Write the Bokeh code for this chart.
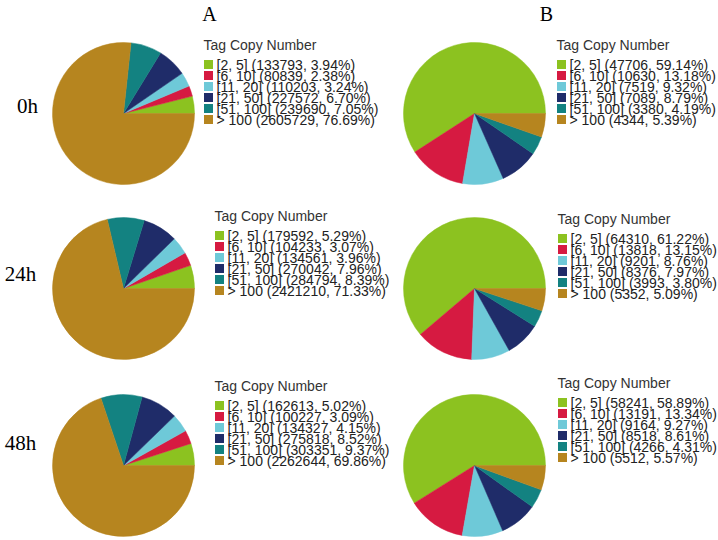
import math
from bokeh.plotting import figure
from bokeh.models import Range1d
from bokeh.core.properties import value
from bokeh.embed import file_html
from bokeh.resources import INLINE

# ---------------- data ----------------
categories = ["[2, 5]", "[6, 10]", "[11, 20]", "[21, 50]", "[51, 100]", "> 100"]
colors = ["#8cc220", "#d61a41", "#6ec9d8", "#1f2c69", "#138281", "#b6851f"]

a_0h_counts = [133793, 80839, 110203, 227572, 239690, 2605729]
a_0h_pct = [3.94, 2.38, 3.24, 6.70, 7.05, 76.69]
a_24h_counts = [179592, 104233, 134561, 270042, 284794, 2421210]
a_24h_pct = [5.29, 3.07, 3.96, 7.96, 8.39, 71.33]
a_48h_counts = [162613, 100227, 134327, 275818, 303351, 2262644]
a_48h_pct = [5.02, 3.09, 4.15, 8.52, 9.37, 69.86]

b_0h_counts = [47706, 10630, 7519, 7089, 3380, 4344]
b_0h_pct = [59.14, 13.18, 9.32, 8.79, 4.19, 5.39]
b_24h_counts = [64310, 13818, 9201, 8376, 3993, 5352]
b_24h_pct = [61.22, 13.15, 8.76, 7.97, 3.80, 5.09]
b_48h_counts = [58241, 13191, 9164, 8518, 4266, 5512]
b_48h_pct = [58.89, 13.34, 9.27, 8.61, 4.31, 5.57]

column_labels = ["A", "B"]
row_labels = ["0h", "24h", "48h"]
legend_title = "Tag Copy Number"

# ---------------- layout (window pixel coordinates) ----------------
W, H = 718, 540

def X(sx):
    return sx

def Y(sy):
    return H - sy

pie_cx = [123, 474]
pie_cy = [113, 288, 465]
pie_r = 71
legend_pos = [
    [(203, 44), (556, 44)],
    [(214, 215), (557, 218)],
    [(214, 385), (557, 382)],
]
col_label_pos = [(209, 13), (546, 13)]
row_label_pos = [(27, 105), (20, 273), (20, 442)]

panels = [
    [(a_0h_counts, a_0h_pct), (b_0h_counts, b_0h_pct)],
    [(a_24h_counts, a_24h_pct), (b_24h_counts, b_24h_pct)],
    [(a_48h_counts, a_48h_pct), (b_48h_counts, b_48h_pct)],
]

p = figure(width=W, height=H, x_range=Range1d(0, W), y_range=Range1d(0, H),
           x_axis_type=None, y_axis_type=None, output_backend="svg",
           toolbar_location=None, min_border=0)
p.outline_line_color = None
p.xgrid.visible = False
p.ygrid.visible = False
p.background_fill_color = "white"

SANS = value("Liberation Sans")
SERIF = value("Liberation Serif")

for ri, row in enumerate(panels):
    for ci, (counts, pct) in enumerate(row):
        total = float(sum(counts))
        starts, ends = [], []
        acc = 0.0
        for c in counts:
            starts.append(2 * math.pi * acc / total)
            acc += c
            ends.append(2 * math.pi * acc / total)
        cx, cy = X(pie_cx[ci]), Y(pie_cy[ri])
        p.wedge(x=[cx] * len(counts), y=[cy] * len(counts), radius=pie_r,
                start_angle=starts, end_angle=ends, fill_color=colors,
                line_color=colors, line_width=0.5)

        lx, ly = legend_pos[ri][ci]
        p.text(x=[X(lx)], y=[Y(ly)], text=[legend_title], text_font=SANS,
               text_font_size="14px", text_color="#333333",
               text_baseline="middle", text_align="left")
        labels = [f"{cat} ({n}, {v:.2f}%)" for cat, n, v in zip(categories, counts, pct)]
        iy = [Y(ly + 20 + 11 * k) for k in range(len(labels))]
        p.rect(x=[X(lx + 5)] * len(labels), y=iy, width=9, height=9,
               fill_color=colors, line_color=None)
        p.text(x=[X(lx + 13)] * len(labels), y=iy, text=labels, text_font=SANS,
               text_font_size="14px", text_color="#222222",
               text_baseline="middle", text_align="left")

p.text(x=[X(px) for px, _ in col_label_pos], y=[Y(py) for _, py in col_label_pos],
       text=column_labels, text_font=SERIF, text_font_size="20px",
       text_color="black", text_baseline="middle", text_align="center")
p.text(x=[X(px) for px, _ in row_label_pos], y=[Y(py) for _, py in row_label_pos],
       text=row_labels, text_font=SERIF, text_font_size="21px",
       text_color="black", text_baseline="middle", text_align="center")

open("out.html", "w").write(file_html(p, INLINE))
